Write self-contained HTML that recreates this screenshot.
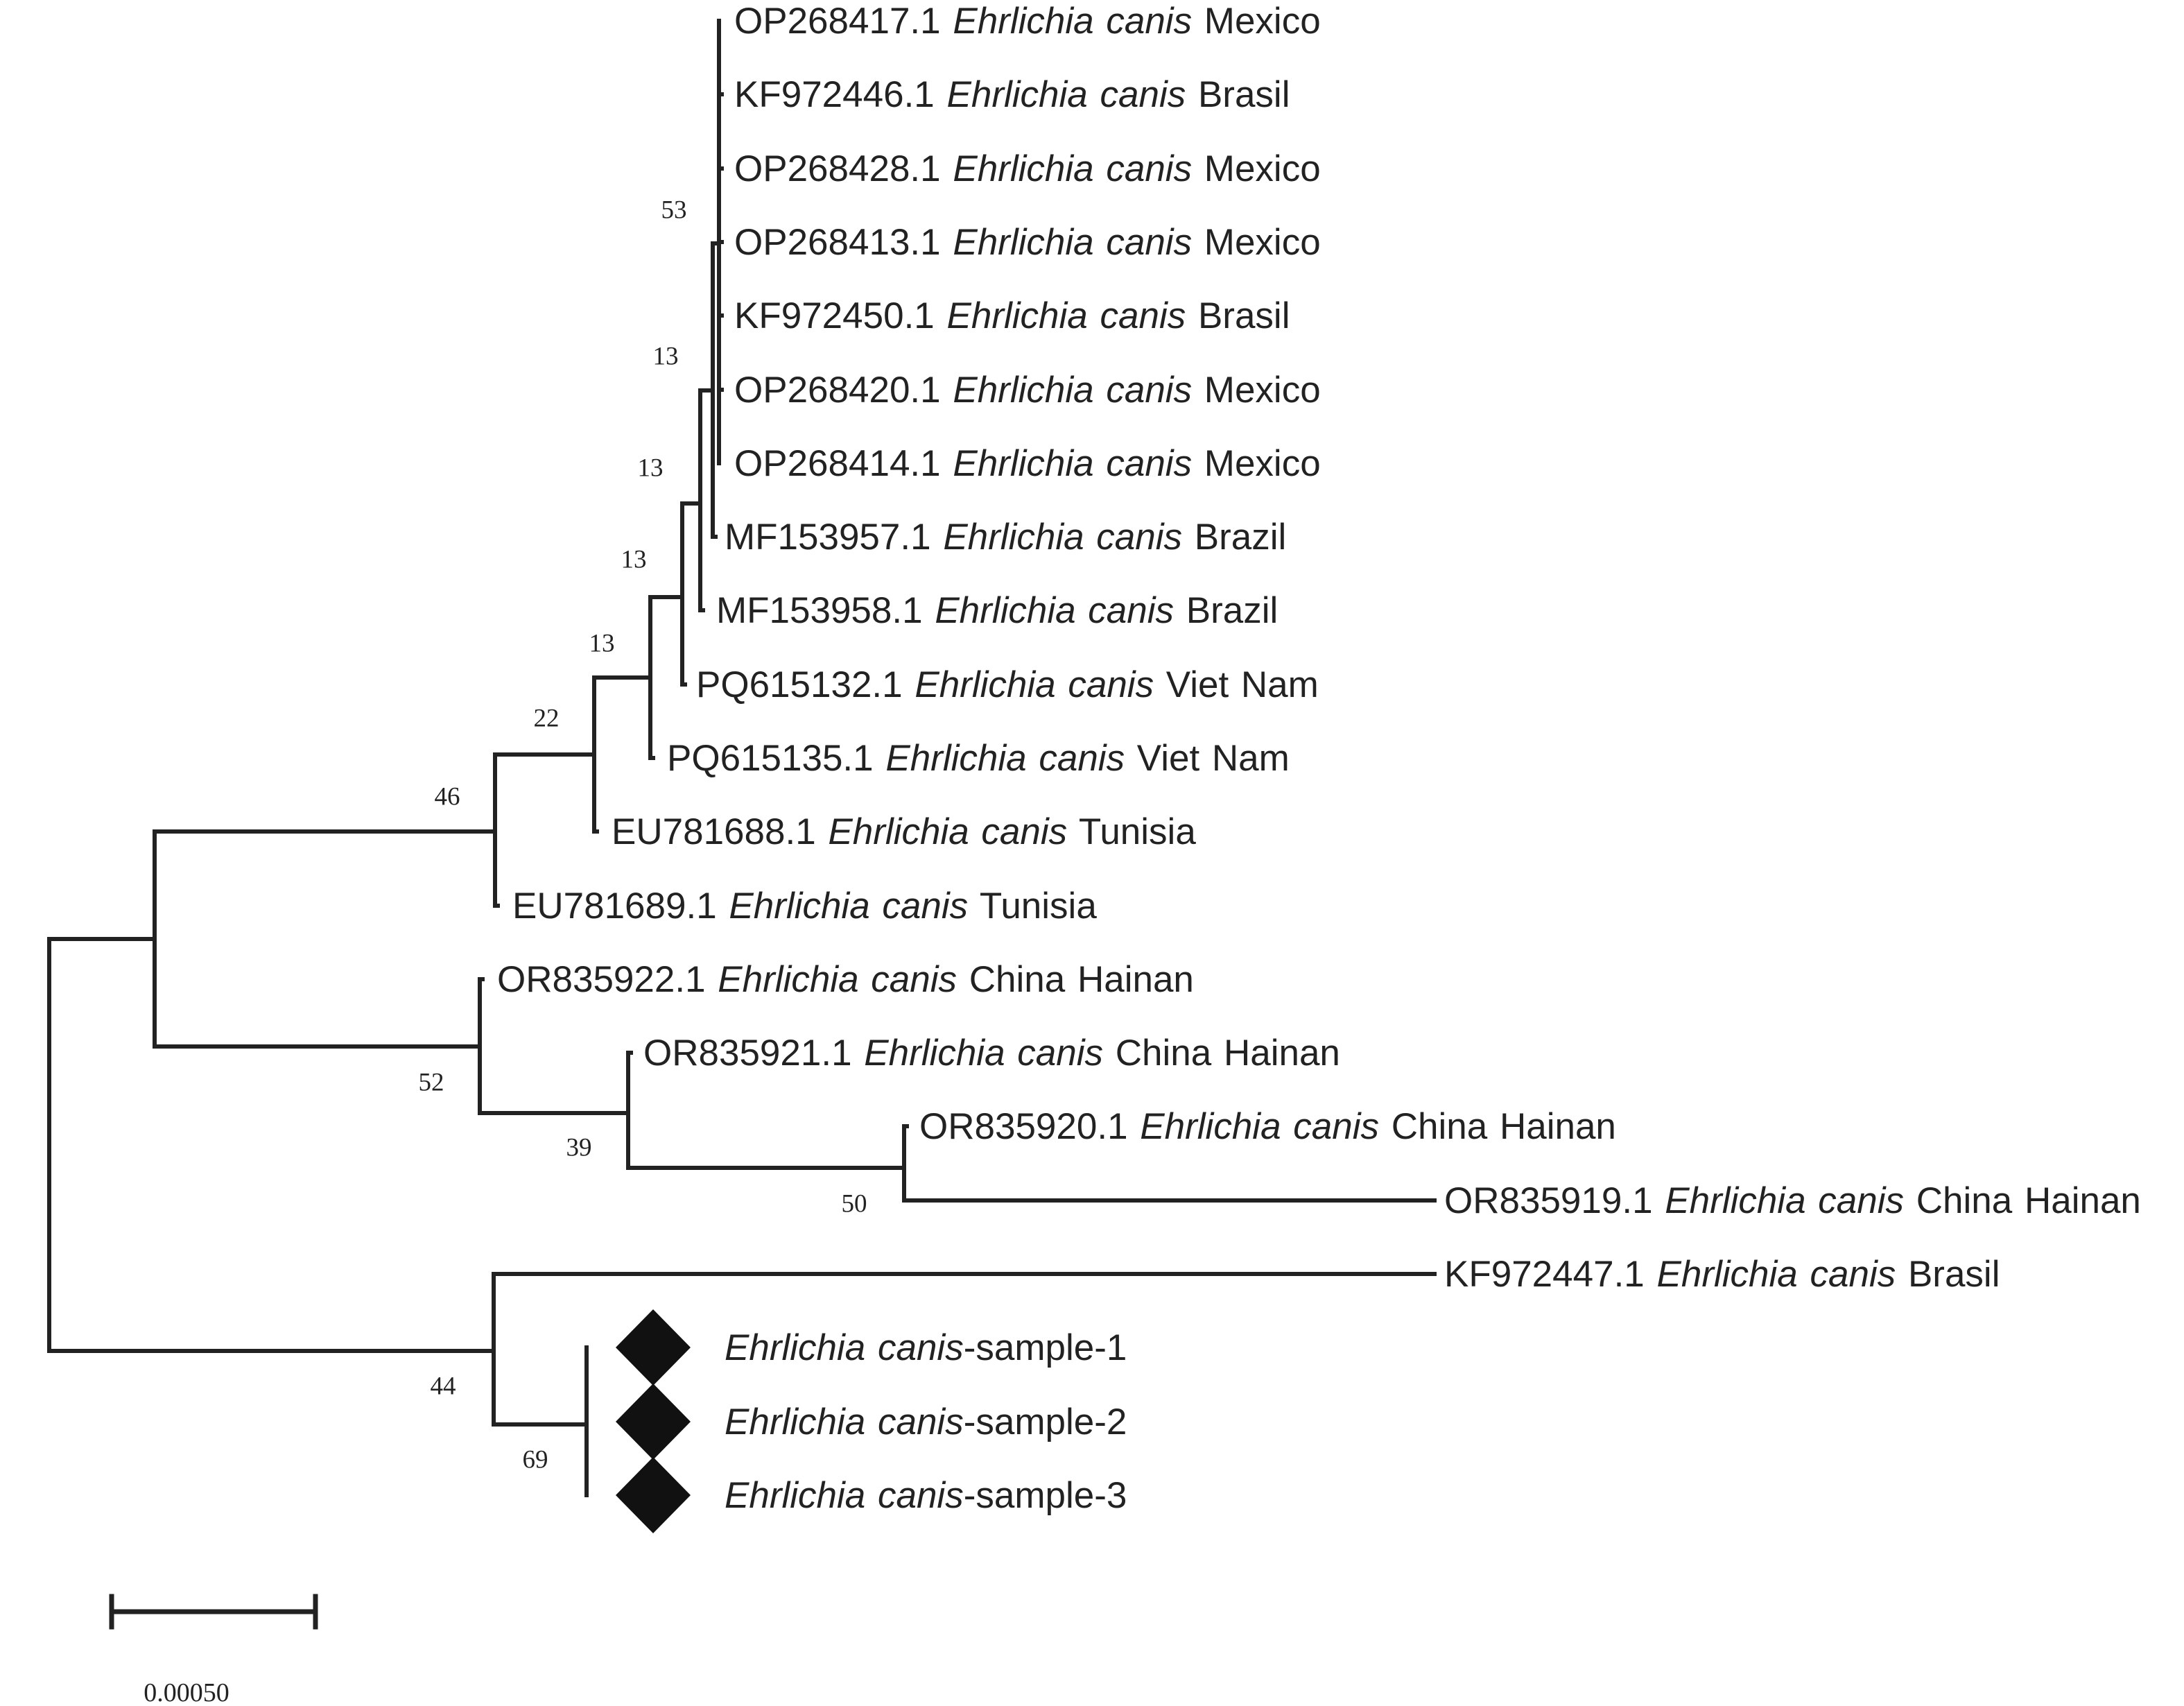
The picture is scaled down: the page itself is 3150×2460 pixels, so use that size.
<!DOCTYPE html>
<html><head><meta charset="utf-8"><style>
html,body{margin:0;padding:0;background:#fff;}
svg{display:block;}
.l{font-family:"Liberation Sans",Arial,sans-serif;font-size:53px;fill:#222;word-spacing:3px;}
.b{font-family:"Liberation Serif",serif;font-size:37px;fill:#222;text-anchor:middle;dominant-baseline:central;}
.it{font-style:italic;}
</style></head><body>
<svg width="3150" height="2460" viewBox="0 0 3150 2460" xmlns="http://www.w3.org/2000/svg">
<g stroke="#222" stroke-width="6" fill="none" stroke-linecap="square">
<path d="M71 1354V1948M71 1354H223M223 1199V1509M223 1199H714M223 1509H692"/>
<path d="M714 1088V1306M714 1088H857M857 977V1199M857 977H938M938 861V1093M938 861H984M984 726V987M984 726H1010M1010 563V880M1010 563H1028M1028 351V774M1028 351H1037M1037 30V668"/>
<path d="M692 1412V1605M692 1605H906M906 1518V1684M906 1684H1304M1304 1624V1731M1304 1731H2069"/>
<path d="M71 1948H712M712 1837V2054M712 1837H2069M712 2054H846M846 1943V2156"/>
<path d="M1037 136H1041M1037 243H1041M1037 349H1041M1037 455H1041M1037 562H1041M1028 774H1032M1010 880H1014M984 987H988M938 1093H942M857 1199H861M714 1306H718M692 1412H696M906 1518H910M1304 1624H1308"/>
<path d="M161 2324H455M161 2302V2346M455 2302V2346" stroke-width="7"/>
</g>
<g fill="#111">
<polygon points="942,1888 996,1943 942,1998 888,1943"/>
<polygon points="942,1995 996,2050 942,2105 888,2050"/>
<polygon points="942,2101 996,2156 942,2211 888,2156"/>
</g>
<g class="l">
<text x="1059" y="48">OP268417.1 <tspan class="it">Ehrlichia canis</tspan> Mexico</text>
<text x="1059" y="154">KF972446.1 <tspan class="it">Ehrlichia canis</tspan> Brasil</text>
<text x="1059" y="261">OP268428.1 <tspan class="it">Ehrlichia canis</tspan> Mexico</text>
<text x="1059" y="367">OP268413.1 <tspan class="it">Ehrlichia canis</tspan> Mexico</text>
<text x="1059" y="473">KF972450.1 <tspan class="it">Ehrlichia canis</tspan> Brasil</text>
<text x="1059" y="580">OP268420.1 <tspan class="it">Ehrlichia canis</tspan> Mexico</text>
<text x="1059" y="686">OP268414.1 <tspan class="it">Ehrlichia canis</tspan> Mexico</text>
<text x="1045" y="792">MF153957.1 <tspan class="it">Ehrlichia canis</tspan> Brazil</text>
<text x="1033" y="898">MF153958.1 <tspan class="it">Ehrlichia canis</tspan> Brazil</text>
<text x="1004" y="1005">PQ615132.1 <tspan class="it">Ehrlichia canis</tspan> Viet Nam</text>
<text x="962" y="1111">PQ615135.1 <tspan class="it">Ehrlichia canis</tspan> Viet Nam</text>
<text x="882" y="1217">EU781688.1 <tspan class="it">Ehrlichia canis</tspan> Tunisia</text>
<text x="739" y="1324">EU781689.1 <tspan class="it">Ehrlichia canis</tspan> Tunisia</text>
<text x="717" y="1430">OR835922.1 <tspan class="it">Ehrlichia canis</tspan> China Hainan</text>
<text x="928" y="1536">OR835921.1 <tspan class="it">Ehrlichia canis</tspan> China Hainan</text>
<text x="1326" y="1642">OR835920.1 <tspan class="it">Ehrlichia canis</tspan> China Hainan</text>
<text x="2083" y="1749">OR835919.1 <tspan class="it">Ehrlichia canis</tspan> China Hainan</text>
<text x="2083" y="1855">KF972447.1 <tspan class="it">Ehrlichia canis</tspan> Brasil</text>
<text x="1045" y="1961"><tspan class="it">Ehrlichia canis</tspan>-sample-1</text>
<text x="1045" y="2068"><tspan class="it">Ehrlichia canis</tspan>-sample-2</text>
<text x="1045" y="2174"><tspan class="it">Ehrlichia canis</tspan>-sample-3</text>
</g>
<g class="b">
<text x="972" y="303">53</text>
<text x="960" y="514">13</text>
<text x="938" y="675">13</text>
<text x="914" y="807">13</text>
<text x="868" y="928">13</text>
<text x="788" y="1036">22</text>
<text x="645" y="1149">46</text>
<text x="622" y="1561">52</text>
<text x="835" y="1655">39</text>
<text x="1232" y="1736">50</text>
<text x="639" y="1999">44</text>
<text x="772" y="2105">69</text>
<text x="269" y="2441" style="font-size:38px">0.00050</text>
</g>
</svg>
</body></html>
